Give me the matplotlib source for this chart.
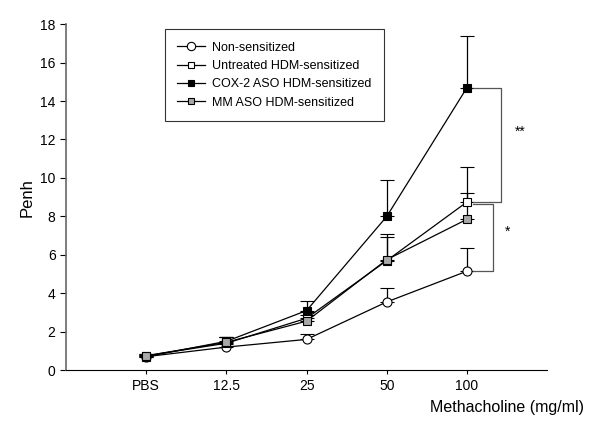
import matplotlib.pyplot as plt
from matplotlib.lines import Line2D
import numpy as np

plt.rcParams['font.family'] = ['Liberation Sans', 'DejaVu Sans']

doses = ['PBS', '12.5', '25', '50', '100']

non_sens = [0.7, 1.2, 1.6, 3.55, 5.15]
non_sens_err = [0.1, 0.15, 0.3, 0.7, 1.2]
untreated = [0.75, 1.4, 2.7, 5.7, 8.75]
untreated_err = [0.1, 0.3, 0.3, 1.4, 1.8]
cox2 = [0.7, 1.5, 3.1, 8.0, 14.7]
cox2_err = [0.1, 0.25, 0.5, 1.9, 2.7]
mm_aso = [0.75, 1.45, 2.55, 5.75, 7.85]
mm_aso_err = [0.1, 0.3, 0.3, 1.2, 1.35]

series = [
    ("Non-sensitized", non_sens, non_sens_err, 'o', 'white'),
    ("Untreated HDM-sensitized", untreated, untreated_err, 's', 'white'),
    ("COX-2 ASO HDM-sensitized", cox2, cox2_err, 's', 'black'),
    ("MM ASO HDM-sensitized", mm_aso, mm_aso_err, 's', '#a8a8a8'),
]

fig = plt.figure(figsize=(6, 4.24), dpi=100)
ax = fig.add_axes([0.11, 0.127, 0.802, 0.816])

x = np.arange(len(doses))
handles = []
for name, vals, err, mk, fc in series:
    ms = 6.5 if mk == 'o' else 5.5
    ax.errorbar(x, vals, yerr=[np.zeros(len(err)), err], color='black',
                marker=mk, markerfacecolor=fc, markeredgecolor='black',
                markersize=ms, markeredgewidth=0.8, linewidth=0.9,
                elinewidth=0.9, capsize=5, capthick=0.9)
    handles.append(Line2D([], [], color='black', marker=mk, markerfacecolor=fc,
                          markeredgecolor='black', markersize=ms - 0.5,
                          markeredgewidth=0.8, linewidth=0.9, label=name))

# significance brackets
br = '#555555'
ax.plot([4.08, 4.42, 4.42, 4.08], [cox2[4], cox2[4], untreated[4], untreated[4]],
        color=br, linewidth=0.9)
ax.plot([4.08, 4.32, 4.32, 4.08], [untreated[4] - 0.1, untreated[4] - 0.1, non_sens[4], non_sens[4]],
        color=br, linewidth=0.9)
ax.text(4.66, 12.4, '**', ha='center', va='center', fontsize=10)
ax.text(4.5, 7.2, '*', ha='center', va='center', fontsize=10)

ax.set_xlim(-1, 5)
ax.set_ylim(0, 18)
ax.set_yticks(np.arange(0, 19, 2))
ax.set_xticks(x)
ax.set_xticklabels(doses)
ax.tick_params(axis='both', labelsize=10, direction='out', length=4, width=0.8)
ax.tick_params(axis='x', length=3)

ax.spines['top'].set_visible(False)
ax.spines['right'].set_visible(False)
ax.spines['left'].set_color('#666666')
ax.spines['left'].set_linewidth(1.2)

ax.set_ylabel('Penh', fontsize=12)
ax.set_xlabel('Methacholine (mg/ml)', fontsize=11.5)
ax.xaxis.set_label_coords(0.917, -0.085)

leg = ax.legend(handles=handles, loc='upper left', bbox_to_anchor=(0.205, 0.985),
                fontsize=9, frameon=True, fancybox=False, edgecolor='black',
                handlelength=2.2, borderpad=1.0, labelspacing=0.5,
                handletextpad=0.6, borderaxespad=0)
leg.get_frame().set_linewidth(0.8)

fig.savefig('out.png', dpi=100)
